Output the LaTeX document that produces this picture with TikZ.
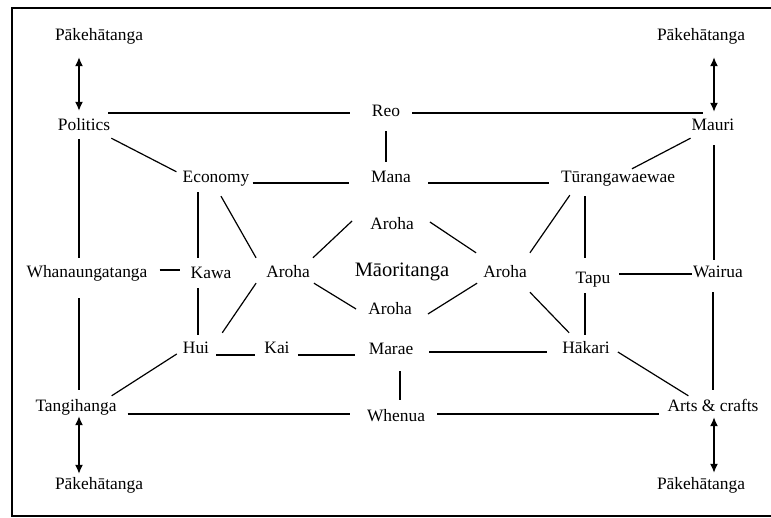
\documentclass[tikz,border=0pt]{standalone}
\usepackage{fontspec}
\setmainfont{Liberation Serif}
\usetikzlibrary{arrows.meta,calc,positioning}
\tikzset{
  lbl/.style={inner sep=0pt, text height=12pt, text depth=4pt, font=\fontsize{17.4}{20}\selectfont},
  big/.style={lbl, font=\fontsize{20.5}{24}\selectfont},
  lnk/.style={line width=1.2pt, line cap=butt},
  twoway/.style={line width=1.4pt, {Latex[length=9pt,width=8pt]}-{Latex[length=9pt,width=8pt]}}
}
\begin{document}
\begin{tikzpicture}[x=1pt,y=-1pt]
\useasboundingbox (0,0) rectangle (771,518);
\draw[line width=2.4pt] (12,8) rectangle (776,516);
% outer ring
\node[lbl] (pkTL) at (99,37) {Pākehātanga};
\node[lbl] (pkTR) at (701,37) {Pākehātanga};
\node[lbl] (pkBL) at (99,485) {Pākehātanga};
\node[lbl] (pkBR) at (701,485) {Pākehātanga};
\node[lbl] (pol) at (84,127) {Politics};
\node[lbl] (reo) at (386,113) {Reo};
\node[lbl] (mauri) at (713,127) {Mauri};
\node[lbl] (whan) at (87,274) {Whanaungatanga};
\node[lbl] (wai) at (718,274) {Wairua};
\node[lbl] (tang) at (76,407) {Tangihanga};
\node[lbl] (whenua) at (396,417) {Whenua};
\node[lbl] (arts) at (713,407) {Arts \& crafts};
% inner ring
\node[lbl] (eco) at (216,179) {Economy};
\node[lbl] (mana) at (391,179) {Mana};
\node[lbl] (tur) at (618,179) {Tūrangawaewae};
\node[lbl] (kawa) at (211,275) {Kawa};
\node[lbl] (tapu) at (593,280) {Tapu};
\node[lbl] (hui) at (196,350) {Hui};
\node[lbl] (kai) at (277,350) {Kai};
\node[lbl] (marae) at (391,351) {Marae};
\node[lbl] (hak) at (586,350) {Hākari};
% centre
\node[big] (mao) at (402,273) {Māoritanga};
\node[lbl] (arT) at (392,226) {Aroha};
\node[lbl] (arB) at (390,311) {Aroha};
\node[lbl] (arL) at (288,274) {Aroha};
\node[lbl] (arR) at (505,274) {Aroha};

\draw[twoway] ([xshift=-20pt,yshift=-12pt]pkTL.south) -- ([xshift=-5pt,yshift=8pt]pol.north);
\draw[twoway] ([xshift=13pt,yshift=-12pt]pkTR.south) -- ([xshift=1pt,yshift=7pt]mauri.north);
\draw[twoway] ([xshift=3pt,yshift=-1pt]tang.south) -- ([xshift=-20pt,yshift=3pt]pkBL.north);
\draw[twoway] ([xshift=1pt,yshift=-2pt]arts.south) -- ([xshift=13pt,yshift=4pt]pkBR.north);

\draw[lnk] ([xshift=-22pt]reo.west) -- ([xshift=-2pt]reo.west -| pol.east);
\draw[lnk] ([xshift=12pt]reo.east) -- ([xshift=-10pt]reo.east -| mauri.north);
\draw[lnk] ([yshift=-10pt]reo.south) -- ([yshift=9pt]reo.south |- mana.north);
\draw[lnk] ([xshift=1pt,yshift=-3pt]pol.south east) -- ([xshift=-6pt,yshift=-1pt]eco.north west);
\draw[lnk] ([xshift=3pt,yshift=-4pt]eco.east) -- ([xshift=-22pt,yshift=-4pt]mana.west);
\draw[lnk] ([xshift=17pt,yshift=-4pt]mana.east) -- ([xshift=-12pt,yshift=-4pt]tur.west);
\draw[lnk] ([xshift=-1pt,yshift=-3pt]mauri.south west) -- ([xshift=14pt,yshift=2pt]tur.north);
\draw[lnk] ([xshift=1pt,yshift=-10pt]mauri.south) -- ([xshift=1pt,yshift=6pt]mauri.south |- wai.north);
\draw[lnk] ([xshift=-18pt,yshift=-5pt]eco.south) -- ([xshift=-18pt,yshift=9pt]eco.south |- kawa.north);
\draw[lnk] ([xshift=5pt,yshift=-9pt]eco.south) -- ([xshift=-10pt,yshift=8pt]arL.north west);
\draw[lnk] ([xshift=-18pt,yshift=5pt]arT.west) -- ([xshift=3pt,yshift=8pt]arL.north east);
\draw[lnk] ([xshift=16pt,yshift=4pt]arT.east) -- ([xshift=-7pt,yshift=13pt]arR.north west);
\draw[lnk] ([xshift=9pt,yshift=-8pt]tur.south west) -- ([xshift=3pt,yshift=13pt]arR.north east);
\draw[lnk] ([xshift=-33pt,yshift=-9pt]tur.south) -- ([xshift=-8pt,yshift=14pt]tapu.north);
\draw[lnk] ([xshift=-8pt,yshift=-5pt]tapu.south) -- ([xshift=-1pt,yshift=7pt]hak.north);
\draw[lnk] ([xshift=-1pt]wai.west) -- ([xshift=9pt]tapu.east |- wai.west);
\draw[lnk] ([yshift=9pt]arts.north) -- ([yshift=-10pt]arts.north |- wai.south);
\draw[lnk] ([xshift=-5pt,yshift=-4pt]pol.south) -- ([xshift=-8pt,yshift=8pt]whan.north);
\draw[lnk] ([xshift=-8pt,yshift=-16pt]whan.south) -- ([xshift=3pt,yshift=9pt]tang.north);
\draw[lnk] ([xshift=12pt,yshift=4pt]whan.east) -- ([xshift=-11pt,yshift=5pt]kawa.west);
\draw[lnk] ([xshift=-13pt,yshift=-5pt]kawa.south) -- ([xshift=2pt,yshift=7pt]hui.north);
\draw[lnk] ([xshift=-10pt,yshift=-1pt]arL.south west) -- ([xshift=13pt,yshift=9pt]hui.north east);
\draw[lnk] ([xshift=4pt,yshift=-1pt]arL.south east) -- ([xshift=-12pt,yshift=2pt]arB.west);
\draw[lnk] ([xshift=-6pt,yshift=-1pt]arR.south west) -- ([xshift=16pt,yshift=-3pt]arB.east);
\draw[lnk] ([xshift=3pt,yshift=-10pt]arR.south east) -- ([xshift=7pt,yshift=9pt]hak.north west);
\draw[lnk] ([xshift=7pt,yshift=-5pt]hui.east) -- ([xshift=-9pt,yshift=-5pt]kai.west);
\draw[lnk] ([xshift=8pt,yshift=-5pt]kai.east) -- ([xshift=-14pt,yshift=-4pt]marae.west);
\draw[lnk] ([xshift=16pt,yshift=-1pt]marae.east) -- ([xshift=-15pt,yshift=-1pt]marae.east -| hak.west);
\draw[lnk] ([xshift=-6pt,yshift=-4pt]hui.west) -- ([xshift=-5pt,yshift=3pt]tang.north east);
\draw[lnk] ([xshift=8pt,yshift=-2pt]hak.east) -- ([xshift=21pt,yshift=3pt]arts.north west);
\draw[lnk] ([xshift=9pt,yshift=-12pt]marae.south) -- ([xshift=4pt,yshift=9pt]whenua.north);
\draw[lnk] ([xshift=11pt,yshift=-7pt]tang.east) -- ([xshift=-17pt,yshift=3pt]whenua.west);
\draw[lnk] ([xshift=12pt,yshift=3pt]whenua.east) -- ([xshift=-8pt,yshift=-7pt]arts.west);
\end{tikzpicture}
\end{document}
